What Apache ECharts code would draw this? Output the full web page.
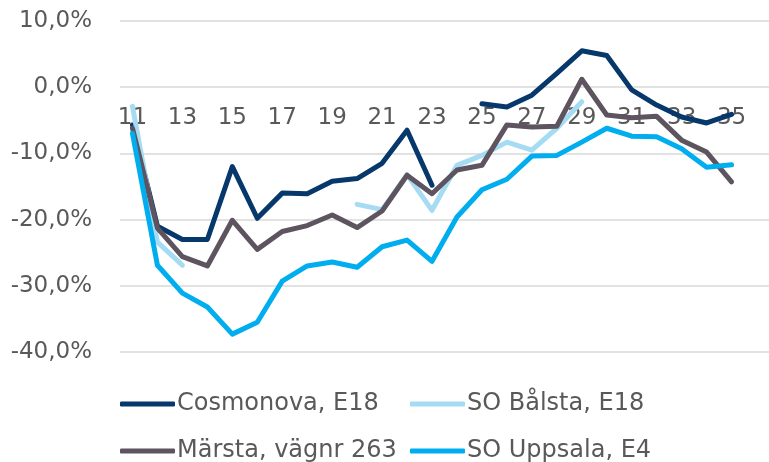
<!DOCTYPE html>
<html>
<head>
<meta charset="utf-8">
<script src="https://cdn.jsdelivr.net/npm/echarts@6/dist/echarts.min.js"></script>
<style>
  body{ margin:0; background:#fff; }
  #main{ width:769px; height:462px; }
</style>
</head>
<body>
<div id="main"></div>
<script>
  // veckor 11-36 (36 saknar data)
  var weeks = ['11','12','13','14','15','16','17','18','19','20','21','22','23','24','25','26','27','28','29','30','31','32','33','34','35','36'];
  var cosmonova = [-5.7,-21.0,-23.0,-23.0,-12.0,-19.8,-16.0,-16.1,-14.2,-13.8,-11.5,-6.5,-14.8,null,-2.5,-3.0,-1.2,2.1,5.5,4.8,-0.4,-2.7,-4.5,-5.4,-4.1,null];
  var balsta = [-2.9,-23.4,-26.9,null,null,null,null,null,null,-17.7,-18.5,-13.2,-18.6,-11.8,-10.3,-8.3,-9.5,-6.2,-2.2,null,null,null,null,null,null,null];
  var marsta = [-6.2,-21.3,-25.6,-27.0,-20.1,-24.5,-21.8,-20.9,-19.3,-21.2,-18.7,-13.3,-16.1,-12.5,-11.8,-5.7,-6.0,-5.9,1.2,-4.2,-4.6,-4.4,-8.0,-9.8,-14.3,null];
  var uppsala = [-7.0,-26.9,-31.1,-33.2,-37.3,-35.5,-29.3,-27.0,-26.4,-27.2,-24.1,-23.1,-26.3,-19.6,-15.5,-13.9,-10.4,-10.3,-8.3,-6.2,-7.4,-7.5,-9.3,-12.1,-11.7,null];

  var names = ['Cosmonova, E18','SO Bålsta, E18','Märsta, vägnr 263','SO Uppsala, E4'];
  var colors = ['#06386b','#a5dbf3','#5d545f','#00aeef'];
  var font = 'DejaVu Sans';
  var txt = '#595959';

  function legendItem(name, left, top){
    return {
      data: [name],
      left: left,
      top: top,
      icon: 'roundRect',
      itemWidth: 55,
      itemHeight: 5,
      itemGap: 0,
      textStyle: { fontFamily: font, fontSize: 24, color: txt, padding: [0,0,0,-3] }
    }
  }

  var chartDom = document.getElementById('main');
  var myChart = echarts.init(chartDom);
  var option = {
    animation: false,
    color: colors,
    grid: { left: 120, top: 21, width: 651, height: 331 },
    legend: [
      legendItem(names[0], 115, 387),
      legendItem(names[1], 405, 387),
      legendItem(names[2], 115, 434),
      legendItem(names[3], 405, 434)
    ],
    xAxis: {
      type: 'category',
      data: weeks,
      boundaryGap: true,
      position: 'bottom',
      // axeln ligger vid 0 %, 265 px ovanför nederkanten
      offset: -265,
      axisLine: { show: false, onZero: false },
      axisTick: { show: false },
      axisLabel: { interval: 1, margin: 20, fontFamily: font, fontSize: 23, color: txt }
    },
    yAxis: {
      type: 'value',
      min: -40,
      max: 10,
      interval: 10,
      axisLabel: {
        margin: 28,
        fontFamily: font,
        fontSize: 23,
        color: txt,
        formatter: function(v){ return v.toFixed(1).replace('.', ',') + '%' }
      },
      splitLine: { lineStyle: { color: '#d9d9d9', width: 1.5 } }
    },
    series: [
      { name: names[0], type: 'line', data: cosmonova },
      { name: names[1], type: 'line', data: balsta },
      { name: names[2], type: 'line', data: marsta },
      { name: names[3], type: 'line', data: uppsala }
    ]
  };
  option.series.forEach(function(s, i){
    s.showSymbol = false;
    s.symbol = 'none';
    s.lineStyle = { width: 5, color: colors[i], cap: 'round', join: 'round' };
  });
  myChart.setOption(option);
</script>
</body>
</html>
